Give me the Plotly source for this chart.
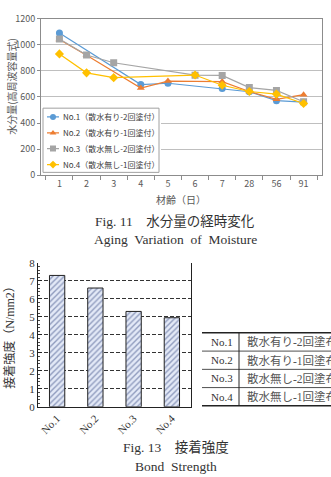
import plotly.graph_objects as go

W, H = 331, 477

# ---------- data: line chart (Fig. 11) ----------
ages = ["1", "2", "3", "4", "5", "6", "7", "28", "56", "91"]
series_names = ["No.1（散水有り-2回塗付）", "No.2（散水有り-1回塗付）",
                "No.3（散水無し-2回塗付）", "No.4（散水無し-1回塗付）"]
no1 = [1090, None, None, 695, 705, None, 665, 640, 572, 560]
no2 = [1040, 920, None, 668, 722, None, 718, 642, 582, 618]
no3 = [1045, 922, 862, None, None, 767, 765, 672, 650, 563]
no4 = [930, 785, 748, None, None, 768, 690, 642, 622, 550]
line_values = [no1, no2, no3, no4]
line_colors = ["#5b9bd5", "#ed7d31", "#a5a5a5", "#ffc000"]
line_symbols = ["circle", "triangle-up", "square", "diamond"]

# ---------- data: bar chart (Fig. 13) ----------
bar_cats = ["No.1", "No.2", "No.3", "No.4"]
bond_strength = [7.3, 6.6, 5.3, 4.95]

# ---------- data: table ----------
table_ids = ["No.1", "No.2", "No.3", "No.4"]
table_desc = ["散水有り-2回塗布", "散水有り-1回塗布", "散水無し-2回塗布", "散水無し-1回塗布"]

SANS = "Noto Sans CJK JP"
SERIF = "Liberation Serif, Noto Sans CJK JP"


def px_x(p):
    return p / W


def px_y(p):
    return 1 - p / H


fig = go.Figure()

for name, vals, col, sym in zip(series_names, line_values, line_colors, line_symbols):
    fig.add_trace(go.Scatter(
        x=ages, y=vals, name=name, mode="lines+markers", connectgaps=True,
        line=dict(color=col, width=1.2),
        marker=dict(color=col, symbol=sym, size=7),
        showlegend=False, xaxis="x", yaxis="y"))

# ---- custom legend drawn in an overlay subplot whose units are page pixels ----
LG_L, LG_R, LG_T, LG_B = 43, 159, 104, 170
fig.add_trace(go.Scatter(
    x=[LG_L, LG_R, LG_R, LG_L, LG_L], y=[LG_T, LG_T, LG_B, LG_B, LG_T],
    mode="lines", fill="toself", fillcolor="white",
    line=dict(color="#a0a0a0", width=1), hoverinfo="skip",
    showlegend=False, xaxis="x3", yaxis="y3"))
entry_y = [113, 129.5, 145.5, 162]
legend_ann = []
for name, col, sym, ey in zip(series_names, line_colors, line_symbols, entry_y):
    fig.add_trace(go.Scatter(
        x=[47, 59], y=[ey, ey], mode="lines", line=dict(color=col, width=1.2),
        hoverinfo="skip", showlegend=False, xaxis="x3", yaxis="y3"))
    fig.add_trace(go.Scatter(
        x=[53], y=[ey], mode="markers", marker=dict(color=col, symbol=sym, size=6),
        hoverinfo="skip", showlegend=False, xaxis="x3", yaxis="y3"))
    legend_ann.append(dict(text=name, x=61, y=ey, xref="x3", yref="y3",
                           xanchor="left", yanchor="middle", showarrow=False,
                           font=dict(size=8, color="#404040", family=SANS)))

fig.add_trace(go.Bar(
    x=bar_cats, y=bond_strength, width=0.4, showlegend=False,
    marker=dict(color="#e3e9f7", line=dict(color="#222222", width=1),
                pattern=dict(shape="/", fgcolor="#3d4f86", bgcolor="#e3e9f7",
                             size=4, solidity=0.35)),
    xaxis="x2", yaxis="y2"))

fig.update_layout(
    width=W, height=H, autosize=False,
    margin=dict(l=0, r=0, t=0, b=0),
    paper_bgcolor="white", plot_bgcolor="white",
    font=dict(family=SANS, color="#595959"),
    showlegend=False,
    xaxis=dict(domain=[px_x(41), px_x(322)], type="category",
               showline=True, linecolor="#8c8c8c", mirror=True,
               ticks="outside", tickson="boundaries", ticklen=4, tickcolor="#8c8c8c",
               tickfont=dict(size=9, color="#595959", family=SANS),
               showgrid=False, anchor="y"),
    yaxis=dict(domain=[px_y(173), px_y(12)], range=[0, 1200], dtick=200,
               showline=True, linecolor="#8c8c8c", mirror=True,
               ticks="outside", ticklen=3, tickcolor="#8c8c8c",
               tickfont=dict(size=9, color="#595959", family=SANS),
               gridcolor="#bfbfbf", gridwidth=1, zeroline=False, anchor="x"),
    xaxis3=dict(domain=[px_x(LG_L - 2), px_x(LG_R + 2)], range=[LG_L - 2, LG_R + 2],
                visible=False, fixedrange=True, anchor="y3"),
    yaxis3=dict(domain=[px_y(LG_B + 2), px_y(LG_T - 2)], range=[LG_B + 2, LG_T - 2],
                visible=False, fixedrange=True, anchor="x3"),
    xaxis2=dict(domain=[px_x(38), px_x(191)], type="category",
                showline=True, linecolor="#222222", ticks="", showgrid=False,
                tickangle=-45, tickfont=dict(size=11, color="#333333", family=SERIF),
                anchor="y2"),
    yaxis2=dict(domain=[px_y(411), px_y(263)], range=[0, 8], dtick=1,
                showline=True, linecolor="#222222", mirror=True,
                ticks="inside", ticklen=4, tickcolor="#222222",
                minor=dict(ticks="inside", dtick=0.2, ticklen=2, tickcolor="#444444", showgrid=False),
                showgrid=True, gridcolor="#333333", griddash="4px,2px", gridwidth=1,
                zeroline=False,
                tickfont=dict(size=11, color="#333333", family=SERIF),
                anchor="x2"),
)


def pann(text, x, y, size, color, family, xanchor="center", angle=0):
    return dict(text=text, x=px_x(x), y=px_y(y), xref="paper", yref="paper",
                xanchor=xanchor, yanchor="middle", showarrow=False, textangle=angle,
                font=dict(size=size, color=color, family=family))


ann = list(legend_ann)
# axis titles
ann.append(pann("水分量(高周波容量式)", 12, 82, 10, "#595959", SANS, angle=-90))
ann.append(pann("材齢（日）", 181, 198, 10, "#595959", SANS))
ann.append(pann("接着強度（N/mm2）", 10, 337, 12, "#333333", SERIF, angle=-90))
# captions
ann.append(pann("Fig. 11　水分量の経時変化", 175, 220, 13.5, "#333333", SERIF))
ann.append(pann("Aging  Variation  of  Moisture", 175, 239, 13.5, "#333333", SERIF))
ann.append(pann("Fig. 13　接着強度", 176, 452, 13.5, "#333333", SERIF))
ann.append(pann("Bond  Strength", 176, 472, 13.5, "#333333", SERIF))

# table
top, bottom = 335, 410
row_h = (bottom - top) / len(table_ids)
shapes = []
for i in range(len(table_ids) + 1):
    yy = top + i * row_h
    w = 1.5 if i in (0, len(table_ids)) else 0.8
    shapes.append(dict(type="line", xref="paper", yref="paper",
                       x0=px_x(202), x1=px_x(331), y0=px_y(yy), y1=px_y(yy),
                       line=dict(color="#222222", width=w)))
shapes.append(dict(type="line", xref="paper", yref="paper",
                   x0=px_x(239), x1=px_x(239), y0=px_y(top), y1=px_y(bottom),
                   line=dict(color="#222222", width=1)))
for i, (tid, desc) in enumerate(zip(table_ids, table_desc)):
    cy = top + (i + 0.5) * row_h
    ann.append(pann(tid, 222, cy, 11, "#333333", SERIF))
    ann.append(pann(desc, 245, cy, 11.5, "#555555", SERIF, xanchor="left"))

fig.update_layout(annotations=ann, shapes=shapes)

fig.write_html("out.html")
